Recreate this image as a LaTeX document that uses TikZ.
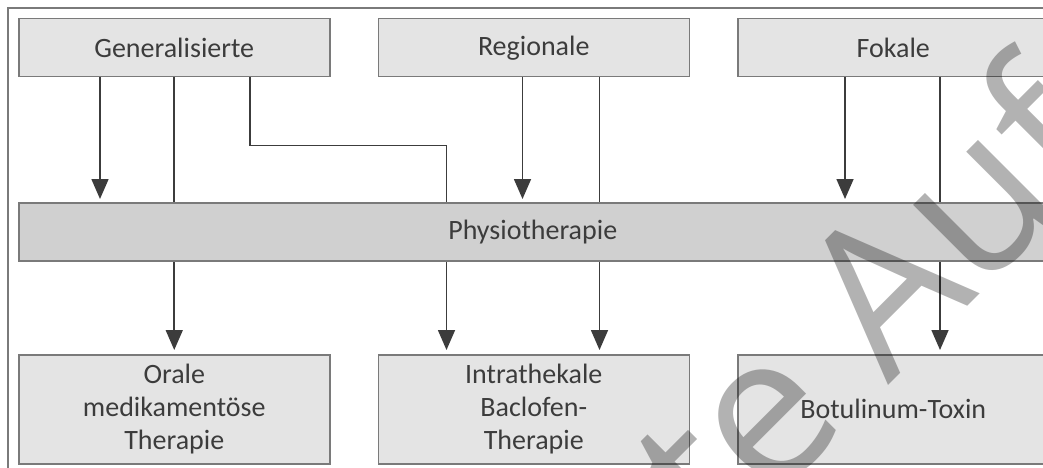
\documentclass[tikz,border=0pt]{standalone}
\usepackage{fontspec}
\setmainfont{Carlito}
\newfontfamily\wmfont{Open Sans}
\usetikzlibrary{calc}
\usetikzlibrary{positioning}
\usetikzlibrary{arrows.meta}
\usetikzlibrary{backgrounds}
\definecolor{boxgray}{HTML}{E4E4E4}
\definecolor{bargray}{HTML}{D0D0D0}
\definecolor{rulegray}{HTML}{7A7A7A}
\definecolor{linegray}{HTML}{3C3C3C}

\begin{document}
\begin{tikzpicture}[x=1pt,y=-1pt,node distance=47pt,
  box/.style={draw=rulegray,line width=1.5pt,fill=boxgray,minimum width=311pt,minimum height=58pt,inner sep=0pt,text=linegray,font=\fontsize{28}{33}\selectfont,align=center},
  lowbox/.style={box,minimum height=109pt},
  bar/.style={box,fill=bargray,minimum width=1028pt},
  link/.style={draw=linegray,line width=1.6pt},
  arr/.style={link,-{Triangle[length=20pt,width=17pt]},shorten >=3pt},
  wm/.style={text=black,text opacity=0.3,font=\wmfont\fontsize{205}{205}\selectfont,inner sep=0pt}]
\useasboundingbox (0,0) rectangle (1043,468);
% top row
\node[box,anchor=north west] (gen) at (18,18) {Generalisierte};
\node[box] (reg) [right=of gen] {Regionale};
\node[box] (fok) [right=of reg] {Fokale};
% middle bar
\node[bar,anchor=north west] (physio) at (18,202) {Physiotherapie};
% bottom row
\node[lowbox,anchor=north west] (oral) at (18,354) {Orale\\medikamentöse\\Therapie};
\node[lowbox] (intra) [right=of oral] {Intrathekale\\Baclofen-\\Therapie};
\node[lowbox] (botox) [right=of intra] {Botulinum-Toxin};

\begin{scope}[on background layer]
\fill[white] (0,0) rectangle (1043,468);
\draw[draw=rulegray,line width=1.2pt] (8,8) rectangle (1080,500);
% lines pass behind the bar
\draw[arr] ($(gen.south west)+(82,0)$) coordinate (g1) -- (g1 |- physio.north);
\draw[arr,shorten >=4pt] (gen.south) -- (oral.north);
\draw[arr,shorten >=4pt] ($(gen.south west)+(232,0)$) -- ++(0,68) -| ($(intra.north west)+(69,0)$);
\draw[arr] ($(reg.south west)+(145,0)$) coordinate (r1) -- (r1 |- physio.north);
\draw[arr,shorten >=4pt] ($(reg.south west)+(222,0)$) coordinate (r2) -- (r2 |- intra.north);
\draw[arr] ($(fok.south west)+(108,0)$) coordinate (f1) -- (f1 |- physio.north);
\draw[arr,shorten >=4pt] ($(fok.south west)+(203,0)$) coordinate (f2) -- (f2 |- botox.north);
\end{scope}

% watermark
\node[wm,rotate=45,anchor=base west] (mark) at (718,556) {te Auf};
\end{tikzpicture}
\end{document}
